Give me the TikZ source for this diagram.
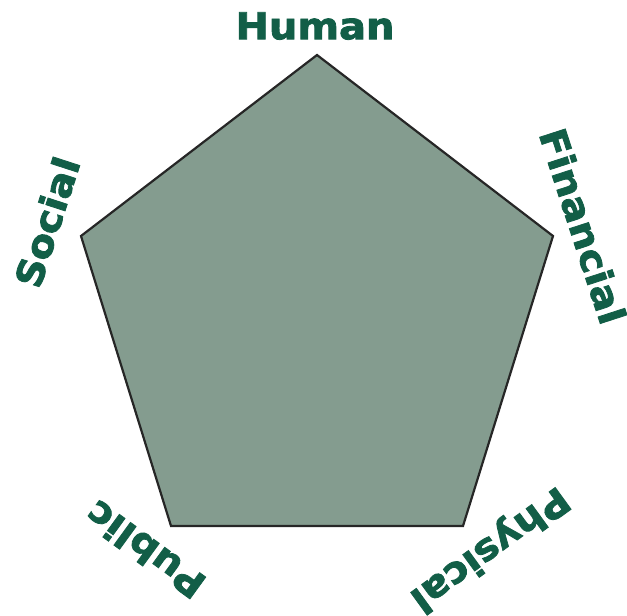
\documentclass[tikz,border=0pt]{standalone}
\usepackage{fontspec}
\newfontfamily\capfont[FakeStretch=1.08, BoldFeatures={FakeBold=2.2}]{DejaVu Sans}
\usepackage{tikz}
\definecolor{capgreen}{HTML}{125E47}
\definecolor{capfill}{HTML}{849C8F}
\tikzset{
  caplabel/.style={text=capgreen, font=\capfont\bfseries\fontsize{18.5}{20}\selectfont, inner sep=0pt}
}
\begin{document}
\begin{tikzpicture}[x=0.5pt, y=-0.5pt, line join=miter]
  \useasboundingbox (0,0) rectangle (627,616);
  % pentagon corners
  \coordinate (top) at (317,55);
  \coordinate (right) at (553,236);
  \coordinate (bright) at (463,526);
  \coordinate (bleft) at (171,526);
  \coordinate (left) at (81,236);
  \filldraw[fill=capfill, draw=black!85, line width=1.1pt]
    (top) -- (right) -- (bright) -- (bleft) -- (left) -- cycle;
  % the five capitals
  \node[caplabel] (human) at (315,26) {Human};
  \node[caplabel, rotate=-72] (financial) at (583,226) {Financial};
  \node[caplabel, rotate=-144] (physical) at (489,548) {Physical};
  \node[caplabel, rotate=144] (public) at (145,550) {Public};
  \node[caplabel, rotate=72] (social) at (47,222) {Social};
\end{tikzpicture}
\end{document}
